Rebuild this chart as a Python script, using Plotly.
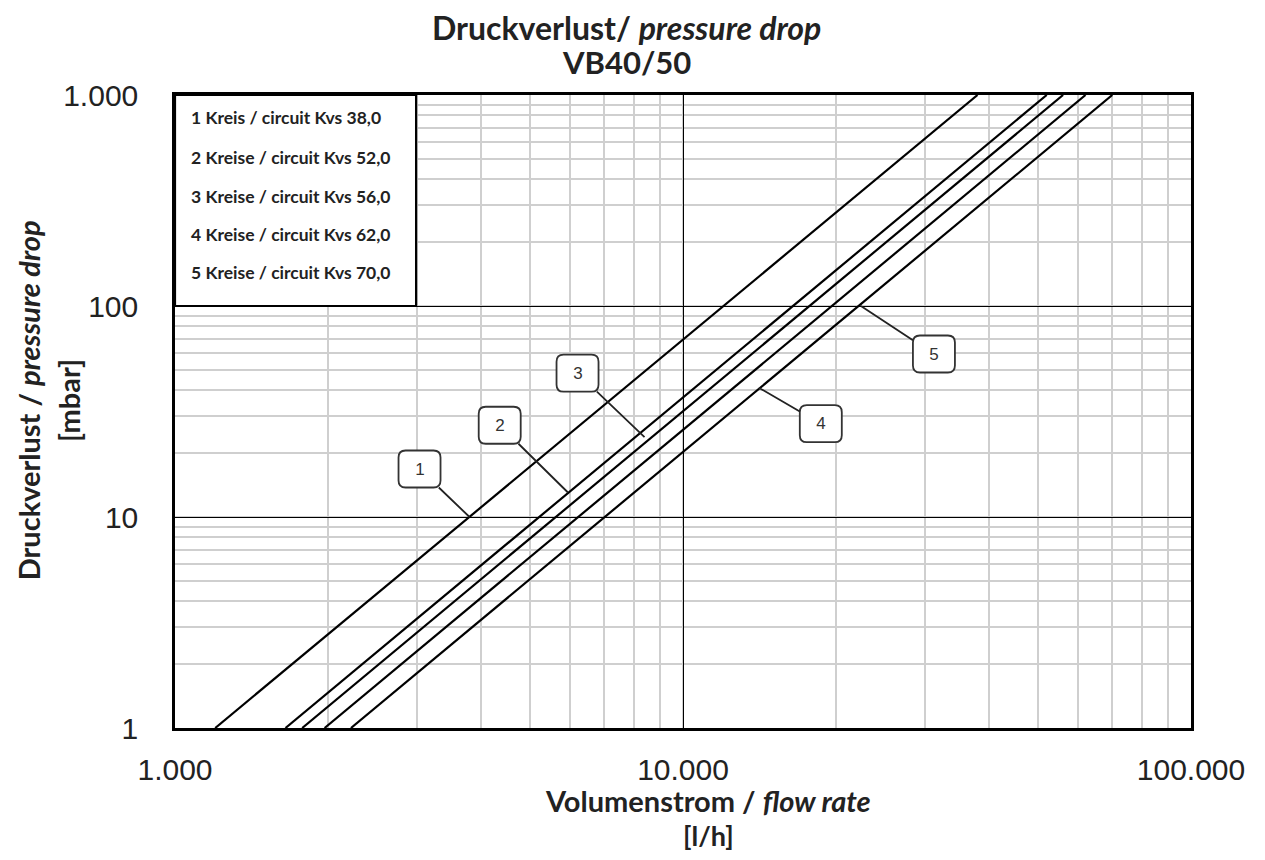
import numpy as np
import plotly.graph_objects as go

# ---- data ----
circuit_labels = [
    "1 Kreis / circuit Kvs 38,0",
    "2 Kreise / circuit Kvs 52,0",
    "3 Kreise / circuit Kvs 56,0",
    "4 Kreise / circuit Kvs 62,0",
    "5 Kreise / circuit Kvs 70,0",
]
callout_names = ["1", "2", "3", "4", "5"]
# start / end points of each straight line (flow l/h, pressure drop mbar)
flow_start = [1200, 1650, 1780, 1970, 2220]
flow_end = [38000, 52000, 56000, 62000, 70000]
dp_start = [1, 1, 1, 1, 1]
dp_end = [1000, 1000, 1000, 1000, 1000]
# points the numbered callouts point at
callout_flow = [3800, 5930, 8400, 14100, 22400]
callout_dp = [10, 13.1, 23.9, 41, 100]

x_tickvals = [1000, 10000, 100000]
x_ticktext = ["1.000", "10.000", "100.000"]
y_tickvals = [1, 10, 100, 1000]
y_ticktext = ["1", "10", "100", "1.000"]

# ---- figure ----
fig = go.Figure()
for i in range(len(circuit_labels)):
    fig.add_trace(go.Scatter(
        x=[flow_start[i], flow_end[i]],
        y=[dp_start[i], dp_end[i]],
        mode="lines",
        line=dict(color="black", width=2.2),
        name=circuit_labels[i],
        showlegend=False,
    ))

tick_font = dict(family="Liberation Sans, Arial, sans-serif", size=30, color="#222")
TF = "Lato, Noto Sans, sans-serif"

fig.update_xaxes(
    type="log", range=[3, 5],
    tickvals=x_tickvals, ticktext=x_ticktext, tickfont=tick_font,
    showgrid=True, gridcolor="black", gridwidth=1.4,
    minor=dict(showgrid=True, gridcolor="#cfcfcf", gridwidth=1.5, dtick="D1", ticks=""),
    showline=True, linecolor="black", linewidth=2.5, mirror=True,
    ticks="", ticklabelstandoff=13, zeroline=False,
)
fig.update_yaxes(
    type="log", range=[0, 3],
    tickvals=y_tickvals, ticktext=y_ticktext, tickfont=tick_font,
    showgrid=True, gridcolor="black", gridwidth=1.4,
    minor=dict(showgrid=True, gridcolor="#cfcfcf", gridwidth=1.5, dtick="D1", ticks=""),
    showline=True, linecolor="black", linewidth=2.5, mirror=True,
    ticks="", ticklabelstandoff=28, zeroline=False,
)

# legend-style text box in the upper left
fig.add_shape(type="rect", xref="paper", yref="paper", x0=0, x1=0.2373, y0=2/3, y1=1,
              line=dict(color="black", width=2.2), fillcolor="white", layer="above")
legend_y = [0.965, 0.902, 0.840, 0.779, 0.719]
for lbl, yy in zip(circuit_labels, legend_y):
    fig.add_annotation(x=0.0137, y=yy, xref="paper", yref="paper", text=lbl, showarrow=False,
                       xanchor="left", yanchor="middle",
                       font=dict(family=TF, size=17.5, color="#222", weight="bold"))

# numbered callouts with rounded boxes
offsets = [(-50, -48), (-68, -67), (-67, -64), (62, 36), (73, 48)]
bw, bh, r = 42, 37, 7
for name, fx, py, (axo, ayo) in zip(callout_names, callout_flow, callout_dp, offsets):
    cx, cy = axo, -ayo
    x0, x1 = cx - bw / 2, cx + bw / 2
    y0, y1 = cy - bh / 2, cy + bh / 2
    path = (f"M {x0 + r},{y0} L {x1 - r},{y0} Q {x1},{y0} {x1},{y0 + r} "
            f"L {x1},{y1 - r} Q {x1},{y1} {x1 - r},{y1} L {x0 + r},{y1} "
            f"Q {x0},{y1} {x0},{y1 - r} L {x0},{y0 + r} Q {x0},{y0} {x0 + r},{y0} Z")
    fig.add_shape(type="path", path=path, xref="x", yref="y",
                  xsizemode="pixel", ysizemode="pixel", xanchor=fx, yanchor=py,
                  line=dict(color="#333", width=1.8), fillcolor="white", layer="above")
    fig.add_annotation(
        x=np.log10(fx), y=np.log10(py), xref="x", yref="y",
        text=name, showarrow=True, arrowhead=0, arrowwidth=1.8, arrowcolor="#222",
        ax=axo, ay=ayo, width=bw, height=bh,
        bgcolor="rgba(0,0,0,0)", borderwidth=0, borderpad=0,
        font=dict(family="Liberation Sans, Arial", size=17, color="#333"),
    )

# chart title (two lines)
fig.add_annotation(x=0.4443, y=1.1074, xref="paper", yref="paper",
                   text="<b>Druckverlust/ <i>pressure drop</i></b>", showarrow=False,
                   xanchor="center", yanchor="middle", font=dict(family=TF, size=32, color="#222"))
fig.add_annotation(x=0.4443, y=1.0521, xref="paper", yref="paper",
                   text="<b>VB40/50</b>", showarrow=False,
                   xanchor="center", yanchor="middle", font=dict(family=TF, size=31, color="#222"))

# x axis title
fig.add_annotation(x=0.525, y=-0.1150, xref="paper", yref="paper",
                   text="<b>Volumenstrom / <i>flow rate</i></b>", showarrow=False,
                   xanchor="center", yanchor="middle", font=dict(family=TF, size=29, color="#222"))
fig.add_annotation(x=0.525, y=-0.1705, xref="paper", yref="paper",
                   text="<b>[l/h]</b>", showarrow=False,
                   xanchor="center", yanchor="middle", font=dict(family=TF, size=27, color="#222"))

# y axis title
fig.add_annotation(x=-0.1445, y=0.518, xref="paper", yref="paper",
                   text="<b>Druckverlust / <i>pressure drop</i></b>", showarrow=False, textangle=-90,
                   xanchor="center", yanchor="middle", font=dict(family=TF, size=29, color="#222"))
fig.add_annotation(x=-0.1055, y=0.518, xref="paper", yref="paper",
                   text="<b>[mbar]</b>", showarrow=False, textangle=-90,
                   xanchor="center", yanchor="middle", font=dict(family=TF, size=29, color="#222"))

fig.update_layout(
    width=1249, height=844,
    paper_bgcolor="white", plot_bgcolor="white",
    margin=dict(l=167, r=55, t=87, b=124),
    showlegend=False,
)

fig.write_html("out.html")
